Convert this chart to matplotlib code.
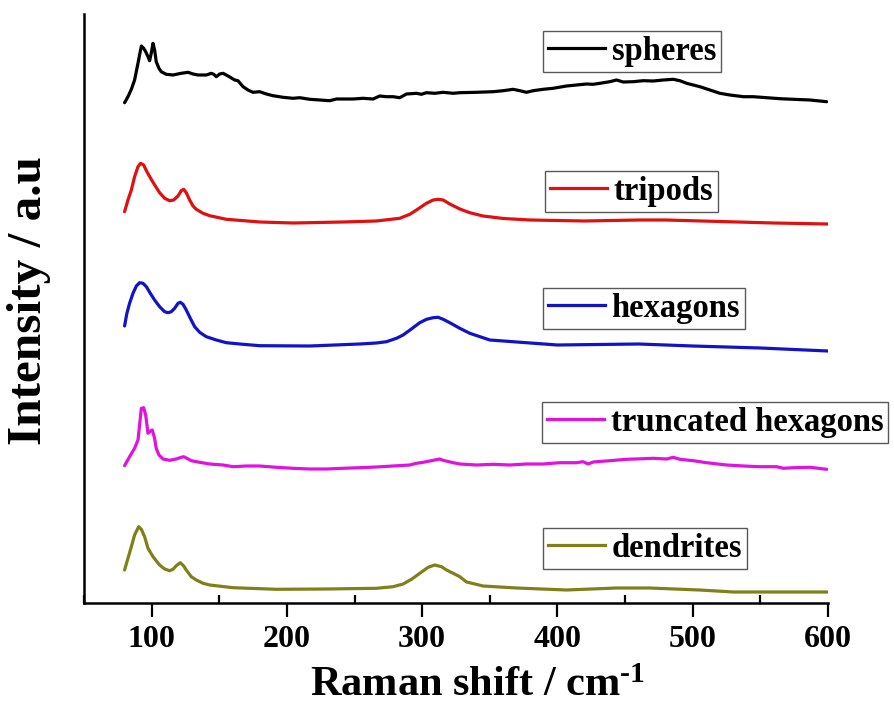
import matplotlib
matplotlib.use("Agg")
import matplotlib.pyplot as plt
from matplotlib.ticker import MultipleLocator
from matplotlib.lines import Line2D

plt.rcParams['font.family'] = ['Liberation Serif', 'DejaVu Serif']
plt.rcParams['font.weight'] = 'bold'
plt.rcParams['mathtext.fontset'] = 'custom'
plt.rcParams['mathtext.rm'] = 'Liberation Serif:bold'
plt.rcParams['mathtext.bf'] = 'Liberation Serif:bold'
plt.rcParams['mathtext.it'] = 'Liberation Serif:bold'

# ---- data (Raman shift in cm-1, intensity in arbitrary stacked units) ----
spheres_x = [80.0, 82.5, 85.0, 87.4, 89.9, 92.4, 94.1, 95.6, 97.3, 98.5, 99.7, 101.0, 102.2, 103.4,
             105.4, 107.1, 110.8, 115.8, 118.2, 121.9, 126.9, 130.6, 134.3, 140.4, 144.1, 145.9,
             147.8, 150.3, 152.8, 156.5, 161.4, 163.8, 167.6, 171.2, 174.9, 179.9, 184.8, 189.7,
             197.1, 204.5, 209.5, 216.9, 224.3, 231.6, 236.6, 241.5, 248.9, 256.3, 263.7, 268.6,
             273.6, 278.5, 283.4, 288.4, 295.8, 299.4, 303.1, 309.3, 315.5, 322.9, 327.8,
             340.1, 352.5, 359.9, 367.2, 372.2, 377.1, 382.0, 389.4, 396.8, 406.7, 414.1, 421.5,
             426.4, 431.4, 438.7, 443.7, 448.6, 456.0, 463.4, 470.8, 478.2, 485.6, 490.5, 495.5,
             500.4, 505.3, 512.7, 520.1, 527.5, 537.4, 544.8, 554.6, 564.5, 574.4, 586.7, 599.0]
spheres_y = [500.3, 506.3, 513.7, 523.0, 539.7, 557.0, 554.7, 551.3, 546.3, 542.3, 549.7, 559.7,
             553.0, 541.3, 534.7, 531.3, 528.7, 528.0, 528.7, 529.7, 530.7, 529.0, 528.0, 528.0,
             529.7, 528.7, 526.3, 529.0, 529.7, 527.0, 523.0, 522.3, 516.3, 513.0, 510.7, 511.3,
             509.0, 507.3, 505.7, 504.7, 505.3, 503.7, 503.0, 502.3, 504.0, 504.0, 504.0, 504.7,
             504.0, 507.0, 506.3, 506.3, 505.3, 509.0, 509.7, 508.7, 510.3, 509.7, 510.7, 509.7,
             510.3, 510.7, 511.3, 512.3, 513.7, 512.3, 510.7, 512.3, 513.7, 514.7, 517.0, 518.0,
             519.0, 518.7, 519.7, 521.3, 523.0, 521.0, 521.3, 522.3, 522.0, 523.0, 523.7, 522.3,
             519.7, 518.0, 516.3, 513.0, 509.7, 508.0, 506.3, 506.3, 505.3, 504.3, 503.7, 503.0,
             501.3]

tripods_x = [80.0, 82.5, 85.0, 87.4, 89.9, 91.9, 94.1, 96.5, 99.7, 102.7, 105.9, 109.6, 113.3,
             116.3, 119.5, 121.9, 123.7, 125.6, 128.1, 130.6, 133.0, 138.0, 142.9, 155.2, 180,
             204.5, 241.5, 266, 283.4, 290.8, 295.8, 299.4, 303.1, 308.1, 311.8, 315.5, 320.4,
             327.8, 335.2, 345, 360, 380, 420, 460, 480, 520, 560, 600]
tripods_y = [391.3, 403.0, 413.0, 426.3, 436.3, 439.7, 438.0, 431.3, 423.7, 417.0, 410.3, 404.7,
             402.3, 403.0, 407.0, 412.3, 413.7, 410.3, 403.0, 397.0, 393.7, 389.7, 387.3, 383.7,
             381, 380, 381, 382, 384.7, 388.7, 393.0, 396.3, 399.7, 403.0, 403.7, 403.0, 399.0,
             394.0, 390.3, 387, 384.5, 383, 382, 383, 383, 381.5, 380, 379]

hexagons_x = [80.0, 81.7, 83.7, 86.2, 88.7, 91.1, 93.6, 96.1, 99.0, 102.2, 105.9, 109.6, 112.1,
              114.5, 117.0, 119.5, 121.2, 123.2, 125.6, 128.6, 131.8, 135.5, 140.4, 147.8, 155.2,
              167.6, 179.9, 216.9, 253.8, 266.2, 273.6, 281.0, 285.9, 292.0, 298.2, 303.2, 308.1,
              311.8, 315.5, 320.4, 327.8, 335.2, 350, 380, 400, 430, 460, 500, 550, 600]
hexagons_y = [277.0, 289.7, 299.7, 309.7, 317.0, 320.3, 319.7, 316.3, 309.7, 303.0, 296.3, 291.3,
              290.3, 291.3, 294.7, 299.7, 300.7, 298.7, 293.0, 284.7, 276.3, 270.7, 266.3, 263.0,
              260.3, 258.7, 257.3, 257.0, 259.0, 260.0, 261.3, 264.7, 268.0, 274.0, 280.3, 283.7,
              285.3, 285.7, 283.7, 280.3, 274.7, 269.7, 263, 260, 258, 258.5, 259, 257, 255, 252]

truncated_x = [80.0, 83.7, 87.4, 89.9, 91.1, 92.4, 94.1, 95.6, 97.3, 99.0, 100.5, 102.2, 103.4,
               105.4, 108.4, 113.3, 118.2, 121.9, 123.7, 126.1, 129.3, 135.5, 142.9, 152.8, 160.2,
               170.0, 179.9, 192.2, 204.5, 216.9, 229.2, 241.5, 253.8, 266.2, 278.5, 290.8, 295.8,
               300.7, 305.6, 313.0, 315.5, 322.9, 327.8, 340.1, 352.5, 364.8, 377.1, 389.4, 401.8,
               414.1, 419.0, 422.7, 426.4, 438.7, 451.1, 463.4, 470.8, 480.7, 485.6, 490.5, 500.4,
               510.2, 525.0, 537.4, 549.7, 562.0, 567.0, 574.4, 586.7, 599.0]
truncated_y = [137.3, 146.3, 154.7, 163.0, 178.0, 194.7, 195.3, 188.0, 169.7, 172.0, 173.0, 164.7,
               154.7, 148.0, 144.0, 142.7, 144.0, 145.7, 146.3, 144.7, 142.3, 140.7, 139.0, 138.0,
               136.3, 137.0, 137.0, 135.7, 134.7, 134.0, 134.0, 134.7, 135.3, 136.0, 137.0, 138.0,
               139.7, 140.7, 142.0, 144.0, 142.7, 140.3, 139.0, 138.0, 138.7, 138.0, 139.0, 139.0,
               140.3, 140.3, 141.3, 139.0, 141.0, 142.3, 143.7, 144.3, 144.7, 144.0, 145.7, 143.7,
               142.3, 140.3, 138.0, 137.0, 136.3, 136.3, 134.7, 135.3, 135.7, 133.7]

dendrites_x = [80.0, 82.5, 85.0, 87.4, 90.4, 92.4, 94.8, 97.3, 101.0, 105.9, 109.6, 113.3, 115.8,
               118.2, 121.2, 123.7, 125.6, 129.3, 133.0, 138.0, 142.9, 160.2, 192.2, 229.2, 266.2,
               278.5, 285.9, 292.1, 298.2, 304.4, 309.3, 314.3, 318.0, 322.9, 327.8, 332.8, 345,
               369.8, 406.7, 443.7, 468, 505, 530, 567, 600]
dendrites_y = [33.0, 44.7, 56.3, 68.0, 76.3, 73.7, 66.3, 54.7, 46.3, 38.0, 34.0, 32.3, 33.7, 37.3,
               40.3, 37.0, 33.0, 26.3, 23.0, 19.7, 18.0, 15.3, 13.7, 14.0, 14.7, 16.3, 19.0, 23.7,
               29.7, 35.7, 38.0, 36.3, 33.0, 29.7, 26.3, 21, 17, 15, 13, 15, 15, 13, 11, 11, 11]

labels = ['spheres', 'tripods', 'hexagons', 'truncated hexagons', 'dendrites']
colors = ['#000000', '#e01010', '#1212c8', '#e012e0', '#80801a']
series = [(spheres_x, spheres_y), (tripods_x, tripods_y), (hexagons_x, hexagons_y),
          (truncated_x, truncated_y), (dendrites_x, dendrites_y)]
# legend box top-left corners in figure pixels
legend_pos = [(543, 31), (545, 171), (543, 288), (542, 402), (543, 528)]

W, H = 894, 705
fig = plt.figure(figsize=(W / 100, H / 100), dpi=100)
ax = fig.add_axes([84 / W, 1 - 603 / H, (828 - 84) / W, (603 - 14) / H])

lines = []
for (xs, ys), c in zip(series, colors):
    ln, = ax.plot(xs, ys, color=c, lw=2.3, solid_joinstyle='round', solid_capstyle='round')
    lines.append(ln)

ax.set_xlim(50, 600)
ax.set_ylim(0, 589)
ax.spines['top'].set_visible(False)
ax.spines['right'].set_visible(False)
ax.spines['left'].set_linewidth(1.8)
ax.spines['bottom'].set_linewidth(1.8)
ax.set_yticks([])
ax.xaxis.set_major_locator(MultipleLocator(100))
ax.xaxis.set_minor_locator(MultipleLocator(50))
ax.set_xticks([100, 200, 300, 400, 500, 600])
ax.tick_params(axis='x', which='major', direction='out', length=10, width=1.6,
               labelsize=23, pad=6)
ax.tick_params(axis='x', which='minor', direction='in', length=6, width=1.6)
for t in ax.get_xticklabels():
    t.set_fontweight('bold')

ax.set_xlabel(r'Raman shift / cm$^{\text{-1}}$', fontsize=30.5, fontweight='bold', va='center')
ax.xaxis.set_label_coords((478 - 84) / (828 - 84), (603 - 686) / (603 - 14))
ax.set_ylabel('Intensity / a.u', fontsize=35.5, fontweight='bold', va='center')
ax.yaxis.set_label_coords((29 - 84) / (828 - 84), (603 - 301) / (603 - 14))

legs = []
for ln, lab, (px, py) in zip(lines, labels, legend_pos):
    handle = Line2D([], [], color=ln.get_color(), lw=2.3)
    leg = ax.legend([handle], [lab], loc='upper left',
                    bbox_to_anchor=(px / W, 1 - py / H), bbox_transform=fig.transFigure,
                    prop={'family': 'Liberation Serif', 'weight': 'bold', 'size': 23.5},
                    frameon=True, fancybox=False, edgecolor='0.35', framealpha=1,
                    borderpad=0.15, borderaxespad=0, handlelength=1.75, handletextpad=0.2)
    leg.get_frame().set_linewidth(1.0)
    legs.append(leg)
for leg in legs[:-1]:
    ax.add_artist(leg)

fig.savefig('out.png', dpi=100)
